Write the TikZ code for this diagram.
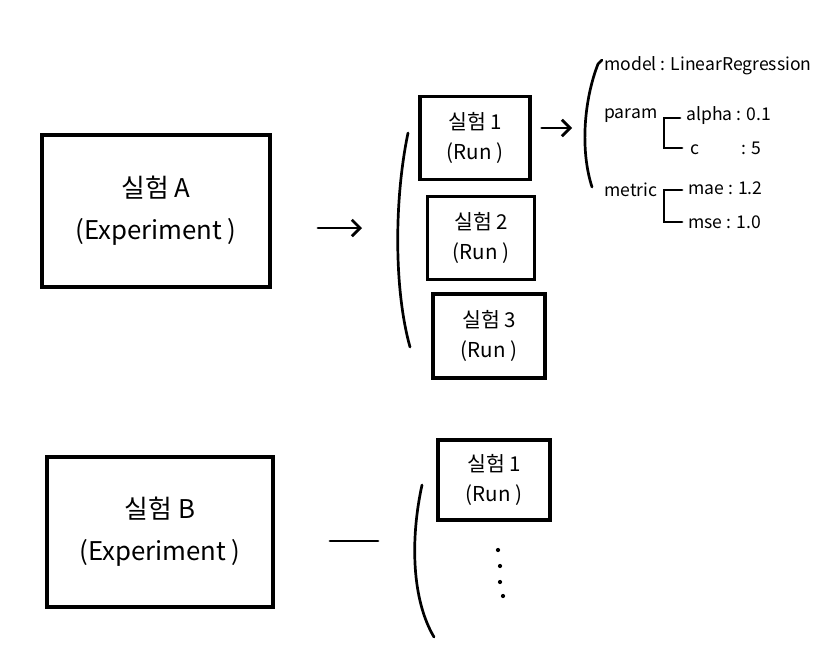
\documentclass[tikz,border=0pt]{standalone}
\usepackage{fontspec}
\newfontfamily\kr{Noto Sans CJK KR}
\usetikzlibrary{arrows.meta}

\begin{document}
\begin{tikzpicture}[x=0.03cm, y=-0.03cm,
    expbox/.style={draw, line width=3.4pt, align=center, font=\kr\fontsize{22}{36}\selectfont, inner sep=0pt},
    runbox/.style={draw, line width=2.8pt, align=center, font=\kr\fontsize{17.5}{26}\selectfont, inner sep=0pt},
    meta/.style={anchor=west, inner sep=0pt, font=\kr\fontsize{15}{17}\selectfont},
    hand/.style={line width=2.3pt, line cap=round},
    handarrow/.style={hand, -{Straight Barb[length=7pt, width=14pt, line width=2.3pt]}}]
    \useasboundingbox (0,0) rectangle (826,666);
    \fill[white] (0,0) rectangle (826,666);
    \node[expbox, minimum width=6.84cm, minimum height=4.56cm] (expA) at (156,211) {실험 A\\(Experiment )};
    \node[expbox, minimum width=6.78cm, minimum height=4.5cm] (expB) at (160,532) {실험 B\\(Experiment )};
    \node[runbox, minimum width=3.3cm, minimum height=2.49cm] (run1) at (475,138) {실험 1\\(Run )};
    \node[runbox, minimum width=3.21cm, minimum height=2.49cm] (run2) at (481,238) {실험 2\\(Run )};
    \node[runbox, minimum width=3.36cm, minimum height=2.52cm] (run3) at (489,336) {실험 3\\(Run )};
    \node[runbox, minimum width=3.36cm, minimum height=2.4cm] (runB1) at (494,480) {실험 1\\(Run )};
    \coordinate (arrA1) at (318,228);
    \coordinate (arrA2) at (362,228);
    \draw[handarrow] (arrA1) -- (arrA2);
    \coordinate (lineB1) at (330,541);
    \coordinate (lineB2) at (378,541);
    \draw[hand] (lineB1) -- (lineB2);
    \draw[hand] (408,133) .. controls (394,200) and (394,290) .. (410,347);
    \draw[hand] (422,485) .. controls (410,540) and (412,600) .. (434,637);
    \coordinate (metain) at (572,128);
    \draw[handarrow, shorten <=0.3cm] (run1.east |- metain) -- (metain);
    \draw[hand] (602,60) -- (598,64) .. controls (584,100) and (580,150) .. (592,187);
    \node[meta] (model) at (604,66) {model : LinearRegression};
    \node[meta] (param) at (604,116) {param};
    \node[meta] (alpha) at (686,116) {alpha : 0.1};
    \node[meta] (c) at (690,148) {c\hspace{2.4em}: 5};
    \node[meta] (metric) at (604,190) {metric};
    \node[meta] (mae) at (688,188) {mae : 1.2};
    \node[meta] (mse) at (688,222) {mse : 1.0};
    \draw[hand] (680,118) -- (664,118) -- (664,148) -- (682,148);
    \draw[hand] (682,190) -- (664,190) -- (664,222) -- (682,222);
    \foreach \px/\py in {498/550, 500/566, 500/582, 503/596}
        \fill (\px,\py) circle (1.8pt);
\end{tikzpicture}
\end{document}
